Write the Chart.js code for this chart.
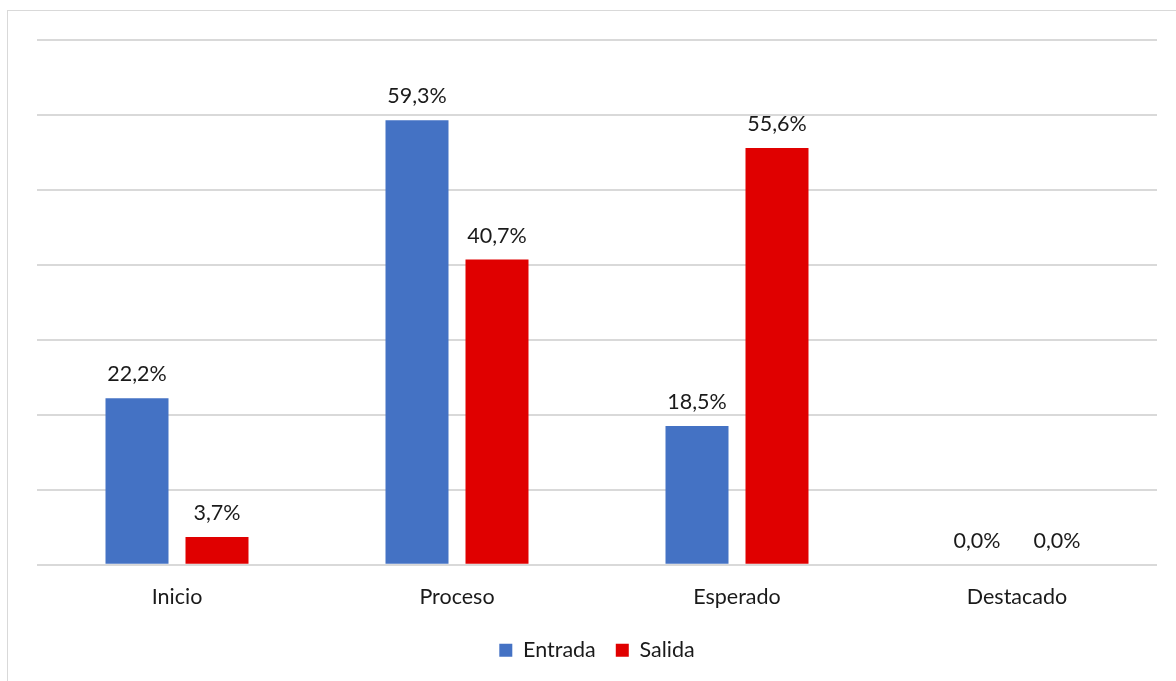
<!DOCTYPE html>
<html><head><meta charset="utf-8">
<script src="https://cdn.jsdelivr.net/npm/chart.js@4"></script>
<style>html,body{margin:0;padding:0;background:#fff;}#wrap{width:1176px;height:681px;position:relative;}</style>
</head><body><div id="wrap"><canvas id="c" width="1176" height="681"></canvas></div>
<script>
const categories = ['Inicio', 'Proceso', 'Esperado', 'Destacado'];
const entrada = [22.2, 59.3, 18.5, 0.0];
const salida = [3.7, 40.7, 55.6, 0.0];
const seriesNames = ['Entrada', 'Salida'];
const yTicksMax = 70;
const yTickStep = 10;

const FONT = "Lato, 'Open Sans', sans-serif";
const FSIZE = 21.5;

const borderPlugin = {
  id: 'frame',
  beforeDraw(chart) {
    const ctx = chart.ctx;
    ctx.save();
    ctx.fillStyle = '#fff';
    ctx.fillRect(0, 0, chart.width, chart.height);
    ctx.strokeStyle = '#d9d9d9';
    ctx.lineWidth = 1;
    ctx.strokeRect(7.5, 10.5, 1300, 800);
    ctx.restore();
  }
};

const labelPlugin = {
  id: 'valueLabels',
  afterDatasetsDraw(chart) {
    const ctx = chart.ctx;
    ctx.save();
    ctx.font = FSIZE + "px " + FONT;
    ctx.fillStyle = '#1a1a1a';
    ctx.textAlign = 'center';
    ctx.textBaseline = 'middle';
    chart.data.datasets.forEach((ds, i) => {
      chart.getDatasetMeta(i).data.forEach((bar, j) => {
        const v = ds.data[j];
        ctx.fillText(v.toFixed(1).replace('.', ',') + '%', bar.x, bar.y - 24);
      });
    });
    ctx.restore();
  }
};

new Chart(document.getElementById('c'), {
  type: 'bar',
  data: {
    labels: categories,
    datasets: [
      { label: seriesNames[0], data: entrada, backgroundColor: '#4472C4' },
      { label: seriesNames[1], data: salida, backgroundColor: '#E00000' }
    ]
  },
  options: {
    responsive: false,
    animation: false,
    devicePixelRatio: 1,
    categoryPercentage: 0.5714,
    barPercentage: 0.7875,
    layout: { padding: { left: 37, right: 19, top: 40, bottom: 10 } },
    scales: {
      x: {
        grid: { display: false },
        border: { display: false },
        ticks: { padding: 11, color: '#1a1a1a', font: { family: FONT, size: FSIZE } },
        afterFit(scale) { scale.height -= 1; }
      },
      y: {
        min: 0, max: yTicksMax,
        ticks: { display: false, stepSize: yTickStep },
        grid: { color: '#d9d9d9', lineWidth: 2, drawTicks: false },
        border: { display: false }
      }
    },
    plugins: {
      legend: {
        position: 'bottom',
        labels: {
          boxWidth: 13, boxHeight: 13, padding: 20,
          color: '#1a1a1a',
          font: { family: FONT, size: FSIZE }
        }
      },
      tooltip: { enabled: false }
    }
  },
  plugins: [borderPlugin, labelPlugin]
});
</script></body></html>
